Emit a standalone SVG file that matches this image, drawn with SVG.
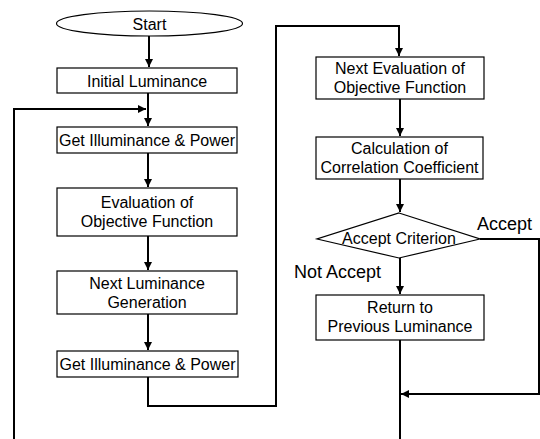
<svg xmlns="http://www.w3.org/2000/svg" width="540" height="439" viewBox="0 0 540 439">
<style>
.box{fill:#fff;stroke:#000;stroke-width:1.2}
.t{font-family:"Liberation Sans",Arial,sans-serif;font-size:16px;fill:#000;text-anchor:middle}
.lbl{font-family:"Liberation Sans",Arial,sans-serif;font-size:18px;fill:#000}
.c{fill:none;stroke:#000;stroke-width:2}
</style>
<defs>
<marker id="ah" viewBox="0 0 10 10" refX="10" refY="5" markerWidth="4" markerHeight="4" orient="auto" markerUnits="strokeWidth">
<path d="M0,0 L10,5 L0,10 z" fill="#000"/>
</marker>
</defs>
<rect width="540" height="439" fill="#fff"/>
<g id="connectors">
<path class="c" d="M149,36 V67" marker-end="url(#ah)"/>
<path class="c" d="M148,93 V126" marker-end="url(#ah)"/>
<path class="c" d="M14,439 V109 H146" marker-end="url(#ah)"/>
<path class="c" d="M148,153 V187" marker-end="url(#ah)"/>
<path class="c" d="M148,236 V270" marker-end="url(#ah)"/>
<path class="c" d="M148,314 V350" marker-end="url(#ah)"/>
<path class="c" d="M148,377 V406 H276 V26 H399 V56" marker-end="url(#ah)"/>
<path class="c" d="M400,99 V136" marker-end="url(#ah)"/>
<path class="c" d="M400,179 V212" marker-end="url(#ah)"/>
<path class="c" d="M400,258 V294" marker-end="url(#ah)"/>
<path class="c" d="M480,239 H539 V394 H401" marker-end="url(#ah)"/>
<path class="c" d="M400,340 V439"/>
<text class="lbl" x="477" y="230">Accept</text>
<text class="lbl" x="294" y="278">Not Accept</text>
</g>
<g id="start">
<ellipse class="box" cx="149.5" cy="23.5" rx="93" ry="12.5"/>
<text class="t" x="149.5" y="29.5">Start</text>
</g>
<g id="initial-luminance">
<rect class="box" x="57" y="68" width="180" height="25"/>
<text class="t" x="147" y="86.5">Initial Luminance</text>
</g>
<g id="get-illuminance-1">
<rect class="box" x="57" y="127" width="180" height="26"/>
<text class="t" x="147" y="146">Get Illuminance &amp; Power</text>
</g>
<g id="evaluation">
<rect class="box" x="57" y="188" width="180" height="48"/>
<text class="t" x="147" y="208">Evaluation of</text>
<text class="t" x="147" y="227">Objective Function</text>
</g>
<g id="next-luminance">
<rect class="box" x="57" y="271" width="180" height="43"/>
<text class="t" x="147" y="289">Next Luminance</text>
<text class="t" x="147" y="308">Generation</text>
</g>
<g id="get-illuminance-2">
<rect class="box" x="57" y="351" width="181" height="26"/>
<text class="t" x="147.5" y="370">Get Illuminance &amp; Power</text>
</g>
<g id="next-evaluation">
<rect class="box" x="316" y="57" width="168" height="42"/>
<text class="t" x="400" y="74">Next Evaluation of</text>
<text class="t" x="400" y="93">Objective Function</text>
</g>
<g id="correlation">
<rect class="box" x="316" y="137" width="167" height="42"/>
<text class="t" x="399.5" y="154">Calculation of</text>
<text class="t" x="399.5" y="173">Correlation Coefficient</text>
</g>
<g id="accept-criterion">
<polygon class="box" points="399,213 480,239 399,258 317,239"/>
<text class="t" x="399" y="244">Accept Criterion</text>
</g>
<g id="return-previous">
<rect class="box" x="316" y="295" width="168" height="45"/>
<text class="t" x="400" y="313">Return to</text>
<text class="t" x="400" y="332">Previous Luminance</text>
</g>
</svg>
